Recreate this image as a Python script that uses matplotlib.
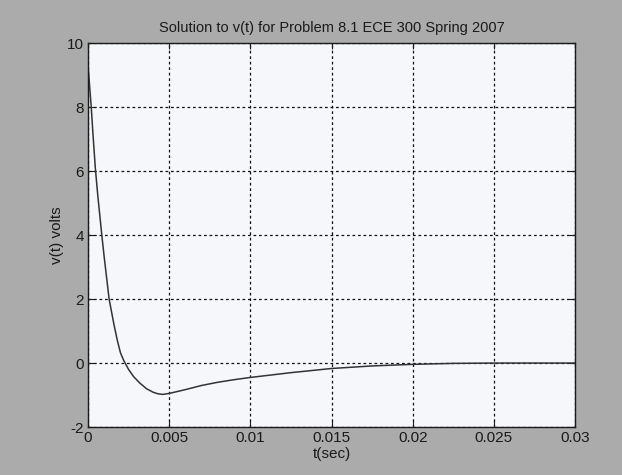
import numpy as np
import matplotlib.pyplot as plt

# values (time in seconds, voltage in volts)
t_sec = [0.0, 0.0001, 0.0002, 0.0003, 0.00045, 0.0006, 0.00085, 0.001,
         0.0013, 0.0016, 0.0018, 0.002, 0.0022, 0.0025, 0.0028, 0.0032,
         0.0036, 0.004, 0.0043, 0.0046, 0.005, 0.006, 0.007, 0.008,
         0.009, 0.01, 0.0125, 0.015, 0.0175, 0.02, 0.0225, 0.025, 0.03]
v_volts = [9.3, 8.65, 8.0, 7.2, 6.1, 5.25, 4.0, 3.3,
           2.0, 1.2, 0.72, 0.32, 0.08, -0.2, -0.42, -0.63,
           -0.8, -0.91, -0.96, -0.98, -0.95, -0.83, -0.70, -0.60,
           -0.52, -0.45, -0.30, -0.17, -0.09, -0.04, -0.01, 0.0, 0.0]

x_ticks = [0, 0.005, 0.01, 0.015, 0.02, 0.025, 0.03]
x_labels = ['0', '0.005', '0.01', '0.015', '0.02', '0.025', '0.03']
y_ticks = [-2, 0, 2, 4, 6, 8, 10]
y_labels = ['-2', '0', '2', '4', '6', '8', '10']

plt.rcParams['font.family'] = ['Liberation Sans', 'DejaVu Sans']

fig = plt.figure(figsize=(6.22, 4.75), dpi=100, facecolor='#ababab')
ax = fig.add_axes([0.1415, 0.101, 0.783, 0.808])
ax.set_facecolor('#f5f7fb')

ax.plot(t_sec, v_volts, color='#333333', linewidth=1.1)

ax.set_xlim(0, 0.03)
ax.set_ylim(-2, 10)
ax.set_xticks(x_ticks)
ax.set_xticklabels(x_labels)
ax.set_yticks(y_ticks)
ax.set_yticklabels(y_labels)
ax.tick_params(direction='in', top=True, right=True, length=4,
               labelsize=11, colors='#1a1a1a', pad=3)
ax.grid(True, color='#111111', linestyle=(0, (2.2, 2.2)), linewidth=0.9)
for s in ax.spines.values():
    s.set_color('#1a1a1a')
    s.set_linewidth(1.0)

ax.set_title('Solution to v(t) for Problem 8.1 ECE 300 Spring 2007',
             fontsize=10.5, color='#1a1a1a', pad=8)
ax.set_xlabel('t(sec)', fontsize=11, color='#1a1a1a', labelpad=1)
ax.set_ylabel('v(t) volts', fontsize=11, color='#1a1a1a', labelpad=2)

fig.savefig('out.png', dpi=100, facecolor=fig.get_facecolor())
